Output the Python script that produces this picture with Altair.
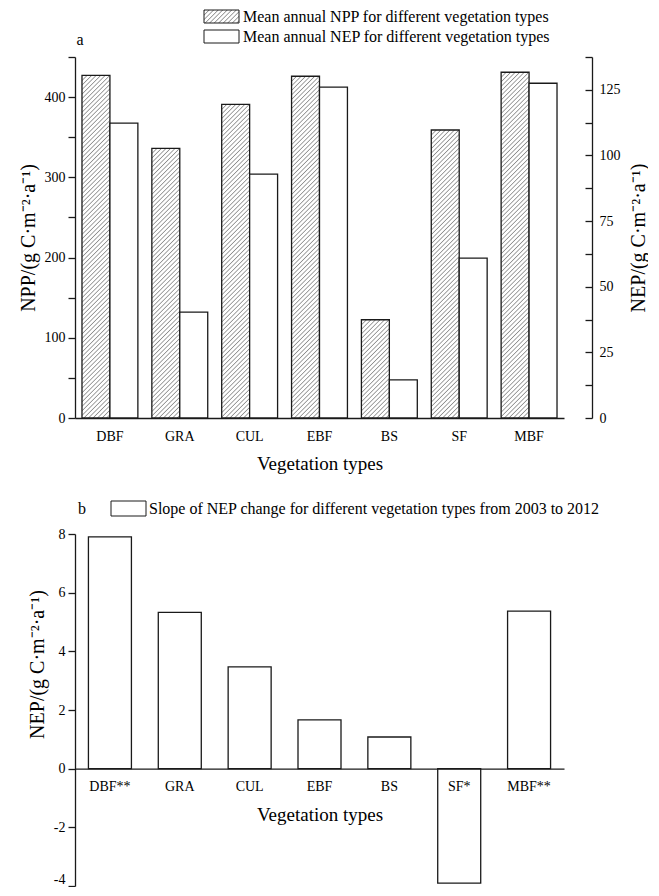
import urllib.parse
import altair as alt
import pandas as pd

# ---------------- data ----------------
categories = ["DBF", "GRA", "CUL", "EBF", "BS", "SF", "MBF"]
npp_values = [427, 336, 391, 426, 122.5, 359, 431]          # left axis, g C m-2 a-1
nep_values = [112.3, 40.3, 92.9, 126, 14.5, 60.9, 127.5]    # right axis, g C m-2 a-1
series_names = ["NPP", "NEP"]

slope_labels = ["DBF**", "GRA", "CUL", "EBF", "BS", "SF*", "MBF**"]
slope_values = [7.9, 5.33, 3.47, 1.66, 1.08, -3.9, 5.37]

npp_ticks = [0, 50, 100, 150, 200, 250, 300, 350, 400, 450]
nep_ticks = [0, 12.5, 25, 37.5, 50, 62.5, 75, 87.5, 100, 112.5, 125, 137.5]
slope_ticks = [-4, -2, 0, 2, 4, 6, 8]

legend_a = ["Mean annual NPP for different vegetation types",
            "Mean annual NEP for different vegetation types"]
legend_b = ["Slope of NEP change for different vegetation types from 2003 to 2012"]

# ---------------- style ----------------
FONT = "Liberation Serif"
INK = "#1a1a1a"
W = 489
HA = 361
HB = 352
LW = 1.3

hatch_svg = (
    "<svg xmlns='http://www.w3.org/2000/svg' width='100%' height='100%'>"
    "<defs><pattern id='h' width='3.2' height='3.2' patternUnits='userSpaceOnUse' "
    "patternTransform='rotate(45)'>"
    "<line x1='0' y1='-2' x2='0' y2='6' stroke='#333' stroke-width='0.9'/></pattern></defs>"
    "<rect width='100%' height='100%' fill='white'/>"
    "<rect width='100%' height='100%' fill='url(#h)'/></svg>"
)
HATCH_URL = "data:image/svg+xml;charset=utf-8," + urllib.parse.quote(hatch_svg)

df_npp = pd.DataFrame({"Category": categories, "Series": "NPP", "Value": npp_values})
df_nep = pd.DataFrame({"Category": categories, "Series": "NEP", "Value": nep_values})
df_b = pd.DataFrame({"Label": slope_labels, "Slope": slope_values})

axis_common = dict(
    labelFont=FONT, labelFontSize=14, labelColor="black",
    titleFont=FONT, titleFontSize=19, titleFontWeight="normal", titleColor="black",
    domainColor=INK, domainWidth=LW, tickColor=INK, tickWidth=LW, grid=False,
)
ytitle_size = 20

x_a = alt.X(
    "Category:N", sort=categories,
    scale=alt.Scale(paddingInner=0.2, paddingOuter=0.1),
    axis=alt.Axis(title="Vegetation types", labelAngle=0, ticks=False,
                  labelPadding=11, titlePadding=11, **axis_common),
)
xo_a = alt.XOffset("Series:N", sort=series_names,
                   scale=alt.Scale(domain=series_names, paddingInner=0, paddingOuter=0))

y_common = {k: v for k, v in axis_common.items() if k != "titleFontSize"}

y_npp = alt.Y(
    "Value:Q",
    scale=alt.Scale(domain=[0, 450], nice=False, zero=True),
    axis=alt.Axis(values=npp_ticks, labelExpr="datum.value % 100 == 0 ? datum.label : ''",
                  tickSize=7, labelPadding=3, titlePadding=6, titleFontSize=ytitle_size,
                  title="NPP/(g C·m⁻²·a⁻¹)", **y_common),
)
y_npp_plain = alt.Y("Value:Q", scale=alt.Scale(domain=[0, 450], nice=False, zero=True))

npp_img = alt.Chart(df_npp).mark_image(aspect=False).encode(
    x=x_a, xOffset=xo_a, y=y_npp, y2=alt.datum(0), url=alt.value(HATCH_URL)
)
npp_outline = alt.Chart(df_npp).mark_bar(fillOpacity=0, stroke=INK, strokeWidth=LW).encode(
    x=x_a, xOffset=xo_a, y=y_npp_plain
)
left = alt.layer(npp_img, npp_outline)

nep_bar = alt.Chart(df_nep).mark_bar(fill="white", stroke=INK, strokeWidth=LW).encode(
    x=x_a, xOffset=xo_a,
    y=alt.Y(
        "Value:Q",
        scale=alt.Scale(domain=[0, 137.5], nice=False, zero=True),
        axis=alt.Axis(orient="right", offset=28, values=nep_ticks,
                      labelExpr="datum.value % 25 == 0 ? datum.label : ''",
                      tickSize={"expr": "-7"}, labelPadding=14, titlePadding=8,
                      titleAngle=270, titleBaseline="top", titleFontSize=ytitle_size,
                      title="NEP/(g C·m⁻²·a⁻¹)", **y_common),
    ),
)

# hand-made legend for panel a
leg_a_df = pd.DataFrame({"t": legend_a, "row": [0, 1]})
leg_a_hatch = alt.Chart(leg_a_df.iloc[[0]]).mark_image(aspect=False).encode(
    x=alt.value(129), x2=alt.value(164), y=alt.value(-47), y2=alt.value(-34),
    url=alt.value(HATCH_URL),
)
leg_a_box1 = alt.Chart(leg_a_df.iloc[[0]]).mark_rect(fillOpacity=0, stroke=INK, strokeWidth=1).encode(
    x=alt.value(129), x2=alt.value(164), y=alt.value(-47), y2=alt.value(-34),
)
leg_a_box2 = alt.Chart(leg_a_df.iloc[[1]]).mark_rect(fill="white", stroke=INK, strokeWidth=1).encode(
    x=alt.value(129), x2=alt.value(164), y=alt.value(-27), y2=alt.value(-14),
)
leg_a_t1 = alt.Chart(leg_a_df.iloc[[0]]).mark_text(
    font=FONT, fontSize=16, align="left", baseline="middle", color="black"
).encode(x=alt.value(168), y=alt.value(-40.5), text="t:N")
leg_a_t2 = alt.Chart(leg_a_df.iloc[[1]]).mark_text(
    font=FONT, fontSize=16, align="left", baseline="middle", color="black"
).encode(x=alt.value(168), y=alt.value(-20.5), text="t:N")
tag_a = alt.Chart(pd.DataFrame({"t": ["a"]})).mark_text(
    font=FONT, fontSize=16, align="center", baseline="middle", color="black"
).encode(x=alt.value(5), y=alt.value(-17), text="t:N")

panel_a = alt.layer(
    left, nep_bar, leg_a_hatch, leg_a_box1, leg_a_box2, leg_a_t1, leg_a_t2, tag_a
).resolve_scale(y="independent").properties(
    width=W, height=HA, view=alt.ViewBackground(stroke=None, strokeWidth=0)
)

# ---------------- panel b ----------------
pad_in_b = 0.3845
bars_b = alt.Chart(df_b).mark_bar(fill="white", stroke=INK, strokeWidth=LW).encode(
    x=alt.X(
        "Label:N", sort=slope_labels,
        scale=alt.Scale(paddingInner=pad_in_b, paddingOuter=pad_in_b / 2),
        axis=alt.Axis(title="Vegetation types", labelAngle=0, ticks=False, zindex=2,
                      offset=-HB * 4 / 12, labelPadding=11, titlePadding=12, **axis_common),
    ),
    y=alt.Y(
        "Slope:Q",
        scale=alt.Scale(domain=[-4, 8], nice=False, zero=True),
        axis=alt.Axis(values=slope_ticks, tickSize=7, labelPadding=3, titlePadding=6,
                      titleFontSize=ytitle_size, titleY=130,
                      labelBaseline={"condition": {"test": "datum.value == -4", "value": "bottom"},
                                     "value": "middle"},
                      labelExpr="replace(datum.label, '\u2212', '-')",
                      title="NEP/(g C·m⁻²·a⁻¹)", **y_common),
    ),
)
leg_b_df = pd.DataFrame({"t": legend_b})
leg_b_box = alt.Chart(leg_b_df).mark_rect(fill="white", stroke=INK, strokeWidth=1).encode(
    x=alt.value(36), x2=alt.value(71), y=alt.value(-33), y2=alt.value(-18),
)
leg_b_t = alt.Chart(leg_b_df).mark_text(
    font=FONT, fontSize=16, align="left", baseline="middle", color="black"
).encode(x=alt.value(74), y=alt.value(-25), text="t:N")
tag_b = alt.Chart(pd.DataFrame({"t": ["b"]})).mark_text(
    font=FONT, fontSize=16, align="center", baseline="middle", color="black"
).encode(x=alt.value(7), y=alt.value(-25), text="t:N")

panel_b = alt.layer(bars_b, leg_b_box, leg_b_t, tag_b).properties(
    width=W, height=HB, view=alt.ViewBackground(stroke=None, strokeWidth=0)
)

chart = (
    alt.vconcat(panel_a, panel_b, spacing=27)
    .properties(padding={"left": 10, "top": 0, "right": 0, "bottom": 0})
    .configure_view(stroke=None, strokeWidth=0)
    .configure(font=FONT)
)

chart.save("out.html", embed_options={"renderer": "svg", "actions": False})
